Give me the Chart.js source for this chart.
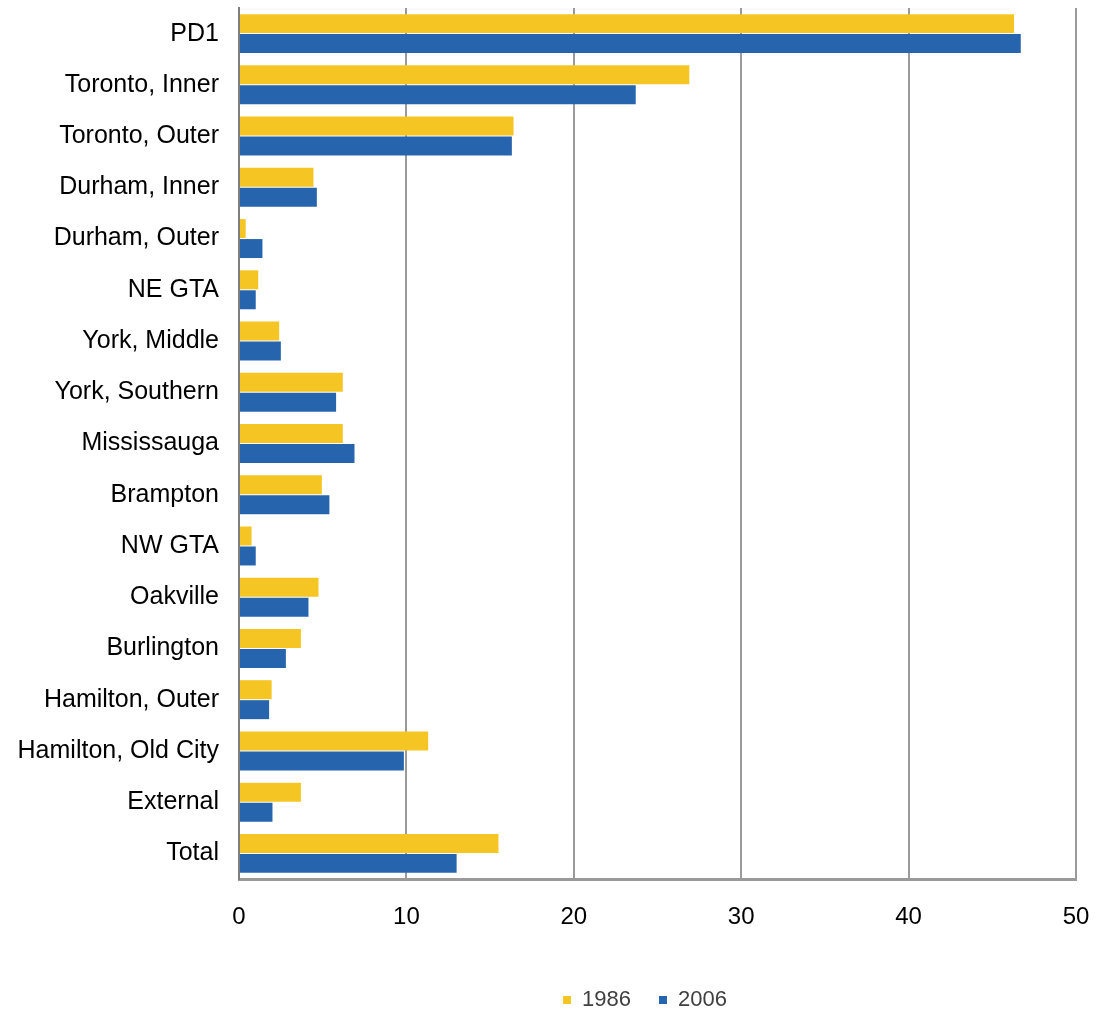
<!DOCTYPE html>
<html>
<head>
<meta charset="utf-8">
<script src="https://cdn.jsdelivr.net/npm/chart.js@4"></script>
<style>
  html, body { margin: 0; padding: 0; background: #fff; }
  #wrap { width: 1099px; height: 1011px; }
</style>
</head>
<body>
<div id="wrap"><canvas id="chartShare"></canvas></div>
<script>
// Regions, top to bottom
const regions = [
  "PD1", "Toronto, Inner", "Toronto, Outer", "Durham, Inner", "Durham, Outer",
  "NE GTA", "York, Middle", "York, Southern", "Mississauga", "Brampton",
  "NW GTA", "Oakville", "Burlington", "Hamilton, Outer", "Hamilton, Old City",
  "External", "Total"
];
const values1986 = [46.3, 26.9, 16.4, 4.45, 0.4, 1.15, 2.4, 6.2, 6.2, 4.95, 0.75, 4.75, 3.7, 1.95, 11.3, 3.7, 15.5];
const values2006 = [46.7, 23.7, 16.3, 4.65, 1.4, 1.0, 2.5, 5.8, 6.9, 5.4, 1.0, 4.15, 2.8, 1.8, 9.85, 2.0, 13.0];
const xTicks = [0, 10, 20, 30, 40, 50];

const FONT = "'Liberation Sans', Arial, sans-serif";

// nudge the legend down and to the right of the default spot
const legendShift = {
  id: "legendShift",
  afterLayout(chart) {
    const lg = chart.legend;
    if (!lg) return;
    lg.top += 10; lg.bottom += 10;
    lg.left += 107; lg.right += 107;
  }
};

document.addEventListener("DOMContentLoaded", () => {
  const ctx = document.getElementById("chartShare");
  new Chart(ctx, {
    type: "bar",
    data: {
      labels: regions,
      datasets: [
        { label: "1986", data: values1986, backgroundColor: "#f5c623", borderWidth: 0 },
        { label: "2006", data: values2006, backgroundColor: "#2764ae", borderWidth: 0 }
      ]
    },
    plugins: [legendShift],
    options: {
      indexAxis: "y",
      responsive: true,
      maintainAspectRatio: false,
      animation: false,
      datasets: { bar: { categoryPercentage: 0.78, barPercentage: 0.95 } },
      layout: { padding: { top: 8, right: 23, bottom: 0, left: 0 } },
      plugins: {
        tooltip: { enabled: false },
        legend: {
          position: "bottom",
          labels: {
            boxWidth: 8,
            boxHeight: 8,
            padding: 28,
            color: "#404040",
            font: { family: FONT, size: 22 }
          }
        }
      },
      scales: {
        x: {
          min: 0,
          max: 50,
          afterBuildTicks: (s) => { s.ticks = xTicks.map(v => ({ value: v })); },
          afterFit: (s) => { s.height = 72; s.paddingLeft = 0; s.paddingRight = 0; },
          grid: { color: "#9a9a9a", lineWidth: 2, drawTicks: false },
          border: { color: "#9a9a9a", width: 3 },
          ticks: { padding: 24, color: "#000", font: { family: FONT, size: 24 } }
        },
        y: {
          afterFit: (s) => { s.width = 239; s.paddingTop = 0; s.paddingBottom = 0; },
          grid: { display: false, drawTicks: false },
          border: { color: "#7f7f7f", width: 2 },
          ticks: { padding: 20, color: "#000", font: { family: FONT, size: 25 } }
        }
      }
    }
  });
});
</script>
</body>
</html>
